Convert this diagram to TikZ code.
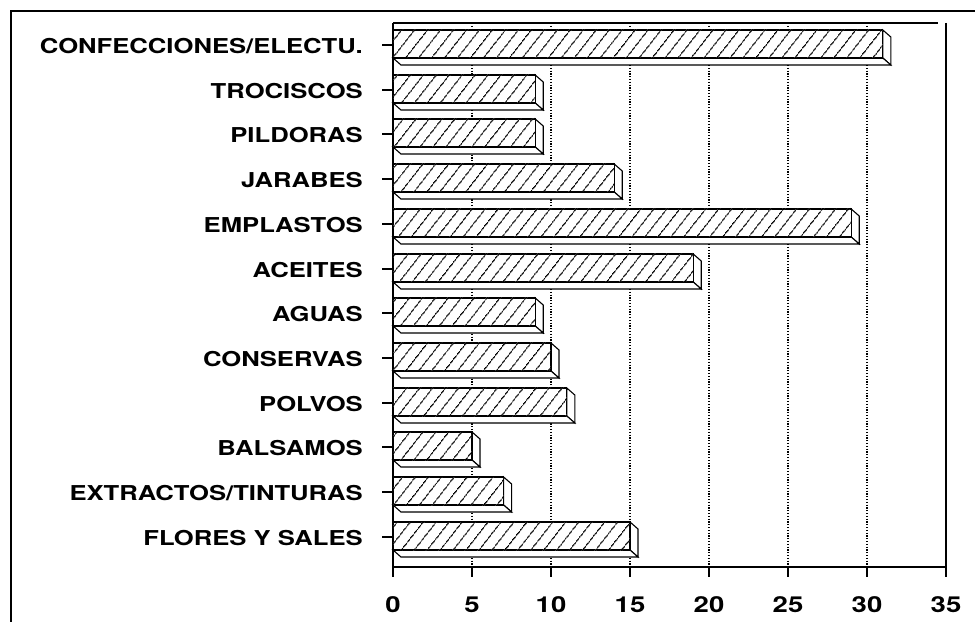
\documentclass[tikz,border=0pt]{standalone}
\usepackage{fontspec}
\usepackage{tikz}
\usetikzlibrary{calc,patterns.meta}
\newfontfamily\chartfont[FakeStretch=1.25]{TeX Gyre Heros}
\def\shadebar(#1:#2){%
	\draw[line width=1.1pt, fill=white] ({393+15.8*#2},{#1-15}) -- ++(8,7) -- ++(0,28) -- ++(-8,-7) -- cycle;
	\draw[line width=1.1pt, fill=white] (393,{#1+13}) -- ++(8,7) -- ({401+15.8*#2},{#1+20}) -- ({393+15.8*#2},{#1+13}) -- cycle;
	\draw[line width=1.2pt, fill=white, postaction={pattern={Lines[angle=52,distance=10.5pt,line width=1.3pt]}}] (393,{#1-15}) rectangle ({393+15.8*#2},{#1+13});
}
\tikzset{
	catlabel/.style={anchor=base east, inner sep=0pt, font=\chartfont\bfseries\fontsize{20.5}{22}\selectfont},
	numlabel/.style={anchor=base, inner sep=0pt, font=\chartfont\bfseries\fontsize{22}{24}\selectfont},
	gridline/.style={line width=1.2pt, dash pattern=on 1.2pt off 1.6pt}
}

\begin{document}
\begin{tikzpicture}[x=1pt, y=-1pt]
			%%%%% START %%%%%
			\useasboundingbox (0,0) rectangle (975,628);
			
			\draw[line width=2pt] (975, 11) -- (11, 11) -- (11, 622);
			
			\draw[gridline] (472, 23) -- (472, 567);
			\draw[gridline] (551, 23) -- (551, 567);
			\draw[gridline] (630, 23) -- (630, 567);
			\draw[gridline] (709, 23) -- (709, 567);
			\draw[gridline] (788, 23) -- (788, 567);
			\draw[gridline] (867, 23) -- (867, 567);
			
			\draw[line width=1.2pt] (393, 23) -- (938, 23);
			\draw[line width=1.6pt] (946, 23) -- (946, 577);
			\draw[line width=1.6pt] (393, 23) -- (393, 577);
			\draw[line width=1.6pt] (393, 567) -- (946, 567);
			
			\shadebar(45:31)
			\shadebar(90:9)
			\shadebar(134:9)
			\shadebar(179:14)
			\shadebar(224:29)
			\shadebar(269:19)
			\shadebar(313:9)
			\shadebar(358:10)
			\shadebar(403:11)
			\shadebar(447:5)
			\shadebar(492:7)
			\shadebar(537:15)
			
			\node[catlabel] (confec) at (363, 53.5) {CONFECCIONES/ELECTU.};
			\node[catlabel] (trocis) at (363, 98.5) {TROCISCOS};
			\node[catlabel] (pildor) at (363, 142.5) {PILDORAS};
			\node[catlabel] (jarab) at (363, 187.5) {JARABES};
			\node[catlabel] (emplas) at (363, 232.5) {EMPLASTOS};
			\node[catlabel] (aceit) at (363, 277.5) {ACEITES};
			\node[catlabel] (aguas) at (363, 321.5) {AGUAS};
			\node[catlabel] (conserv) at (363, 366.5) {CONSERVAS};
			\node[catlabel] (polvos) at (363, 411.5) {POLVOS};
			\node[catlabel] (balsam) at (363, 455.5) {BALSAMOS};
			\node[catlabel] (extract) at (363, 500.5) {EXTRACTOS/TINTURAS};
			\node[catlabel] (flores) at (363, 545.5) {FLORES Y SALES};
			
			\draw[line width=1.2pt] (382, 45) -- (393, 45);
			\draw[line width=1.2pt] (382, 90) -- (393, 90);
			\draw[line width=1.2pt] (382, 134) -- (393, 134);
			\draw[line width=1.2pt] (382, 179) -- (393, 179);
			\draw[line width=1.2pt] (382, 224) -- (393, 224);
			\draw[line width=1.2pt] (382, 269) -- (393, 269);
			\draw[line width=1.2pt] (382, 313) -- (393, 313);
			\draw[line width=1.2pt] (382, 358) -- (393, 358);
			\draw[line width=1.2pt] (382, 403) -- (393, 403);
			\draw[line width=1.2pt] (382, 447) -- (393, 447);
			\draw[line width=1.2pt] (382, 492) -- (393, 492);
			\draw[line width=1.2pt] (382, 537) -- (393, 537);
			
			\draw[line width=1.2pt] (472, 567) -- (472, 577);
			\draw[line width=1.2pt] (551, 567) -- (551, 577);
			\draw[line width=1.2pt] (630, 567) -- (630, 577);
			\draw[line width=1.2pt] (709, 567) -- (709, 577);
			\draw[line width=1.2pt] (788, 567) -- (788, 577);
			\draw[line width=1.2pt] (867, 567) -- (867, 577);
			
			\node[numlabel] (tick0) at (393, 612) {0};
			\node[numlabel] (tick5) at (472, 612) {5};
			\node[numlabel] (tick10) at (551, 612) {10};
			\node[numlabel] (tick15) at (630, 612) {15};
			\node[numlabel] (tick20) at (709, 612) {20};
			\node[numlabel] (tick25) at (788, 612) {25};
			\node[numlabel] (tick30) at (867, 612) {30};
			\node[numlabel] (tick35) at (946, 612) {35};
			
			%%%%% END %%%%%
		\end{tikzpicture}
\end{document}
